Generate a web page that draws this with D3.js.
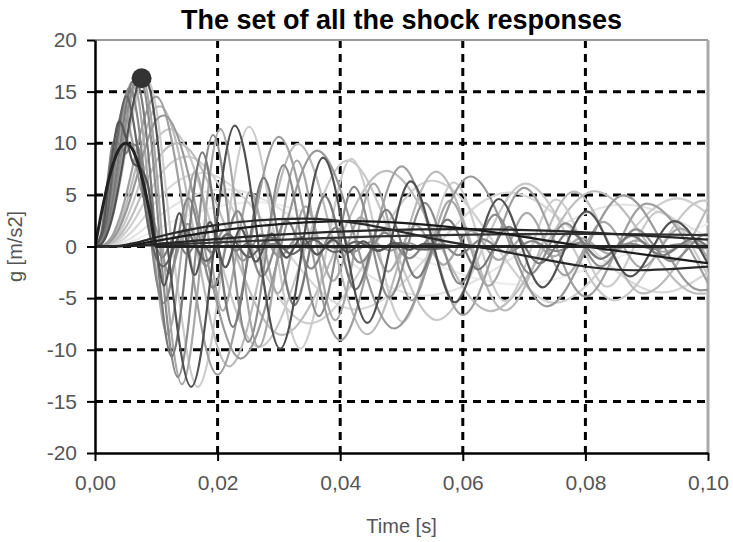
<!DOCTYPE html>
<html>
<head>
<meta charset="utf-8">
<script src="https://cdn.jsdelivr.net/npm/d3@7"></script>
<style>
  body { margin: 0; background: #fff; }
  text { font-family: "Liberation Sans", Arial, sans-serif; }
</style>
</head>
<body>
<svg id="chart" width="733" height="542"></svg>
<script>
const WIDTH = 733;
const HEIGHT = 542;
const MARGIN = { top: 40, right: 25, bottom: 89, left: 95 };

// tick values of both axes
const timeTicks = [0, 0.02, 0.04, 0.06, 0.08, 0.1];
const gTicks = [-20, -15, -10, -5, 0, 5, 10, 15, 20];

// half-sine shock input, [time, g]
const shockInput = [[0,0],[0.001,3.09],[0.002,5.88],[0.003,8.09],[0.004,9.51],[0.005,10],[0.006,9.51],[0.007,8.09],[0.008,5.88],[0.009,3.09],[0.01,0],[0.1,0]];

// responses of the oscillators (period in the name)
const resp004 = [[0,0],[0.001,1.29],[0.002,6.13],[0.003,10.07],[0.004,9.91],[0.005,9.01],[0.006,9.91],[0.007,9.63],[0.008,6.13],[0.009,2.19],[0.01,0],[0.011,-1.05],[0.013,0.9],[0.015,-0.76],[0.017,0.65],[0.019,-0.56],[0.021,0.48],[0.023,-0.41],[0.025,0.35],[0.027,-0.3],[0.029,0.25],[0.031,-0.22],[0.033,0.19],[0.035,-0.16],[0.037,0.14],[0.039,-0.12],[0.045,0],[0.1,0]];
const resp005 = [[0,0],[0.00125,1.62],[0.0025,7.54],[0.00375,11.96],[0.004,12.12],[0.005,10.67],[0.00625,8.06],[0.0075,7.54],[0.00875,5.62],[0.01,0],[0.01125,-3.78],[0.01375,3.23],[0.01625,-2.76],[0.01875,2.36],[0.02125,-2.02],[0.02375,1.72],[0.02625,-1.47],[0.02875,1.26],[0.03125,-1.08],[0.03375,0.92],[0.03625,-0.79],[0.03875,0.67],[0.04125,-0.57],[0.04375,0.49],[0.04625,-0.42],[0.04875,0.36],[0.05125,-0.31],[0.05375,0.26],[0.06,0],[0.1,0]];
const resp006 = [[0,0],[0.0015,1.94],[0.003,8.89],[0.0047,13.46],[0.006,10.45],[0.0075,5.54],[0.009,3.4],[0.01,1.69],[0.0121,-2.57],[0.0151,2.2],[0.0181,-1.88],[0.0211,1.61],[0.0241,-1.37],[0.0271,1.17],[0.0301,-1],[0.0331,0.86],[0.0361,-0.73],[0.0391,0.63],[0.0421,-0.54],[0.0451,0.46],[0.0481,-0.39],[0.0511,0.34],[0.0541,-0.29],[0.06,0],[0.1,0]];
const resp007 = [[0,0],[0.00175,2.26],[0.0035,10.15],[0.0051,14.55],[0.007,9.22],[0.008,4.52],[0.00875,1.67],[0.01,-1.1],[0.01111,-1.92],[0.01461,1.64],[0.01811,-1.4],[0.02161,1.2],[0.02511,-1.03],[0.02861,0.88],[0.03211,-0.75],[0.03561,0.64],[0.03911,-0.55],[0.04261,0.47],[0.04611,-0.4],[0.04961,0.34],[0.05311,-0.29],[0.06,0],[0.1,0]];
const resp008 = [[0,0],[0.001,0.44],[0.002,2.6],[0.003,6.64],[0.004,11.32],[0.005,14.67],[0.0055,15.31],[0.006,15.08],[0.007,12.19],[0.008,7],[0.009,1.32],[0.01,-3.21],[0.01124,-5.47],[0.01524,4.68],[0.01924,-4],[0.02324,3.42],[0.02724,-2.92],[0.03124,2.5],[0.03524,-2.14],[0.03924,1.83],[0.04324,-1.56],[0.04724,1.34],[0.05124,-1.14],[0.05524,0.98],[0.05924,-0.84],[0.06324,0.72],[0.06724,-0.61],[0.07124,0.52],[0.07524,-0.45],[0.07924,0.38],[0.08324,-0.33],[0.08724,0.28],[0.09124,-0.24],[0.09524,0.2],[0.09924,-0.17],[0.1,-0.14]];
const resp009 = [[0,0],[0.001,0.37],[0.002,2.19],[0.003,5.74],[0.004,10.25],[0.005,14.16],[0.006,15.89],[0.007,14.5],[0.008,10.12],[0.009,3.88],[0.01,-2.56],[0.01184,-8.5],[0.01634,7.27],[0.02084,-6.21],[0.02534,5.31],[0.02984,-4.54],[0.03434,3.88],[0.03884,-3.32],[0.04334,2.84],[0.04784,-2.43],[0.05234,2.07],[0.05684,-1.77],[0.06134,1.52],[0.06584,-1.3],[0.07034,1.11],[0.07484,-0.95],[0.07934,0.81],[0.08384,-0.69],[0.08834,0.59],[0.09284,-0.51],[0.09734,0.43],[0.1,-0.12]];
const resp010 = [[0,0],[0.001,0.32],[0.002,1.89],[0.003,5.02],[0.004,9.22],[0.005,13.33],[0.006,15.9],[0.0065,16.1],[0.007,15.8],[0.008,12.77],[0.009,7.08],[0.01,0],[0.0125,-10.65],[0.0175,9.11],[0.0225,-7.79],[0.0275,6.66],[0.0325,-5.69],[0.0375,4.87],[0.0425,-4.16],[0.0475,3.56],[0.0525,-3.04],[0.0575,2.6],[0.0625,-2.22],[0.0675,1.9],[0.0725,-1.63],[0.0775,1.39],[0.0825,-1.19],[0.0875,1.02],[0.0925,-0.87],[0.0975,0.74],[0.1,0]];
const resp0115 = [[0,0],[0.001,0.27],[0.002,1.57],[0.003,4.19],[0.004,7.91],[0.005,11.96],[0.006,15.2],[0.007,16.2],[0.008,15.29],[0.009,11.19],[0.01,4.79],[0.01064,0],[0.01351,-12.63],[0.01926,10.8],[0.02501,-9.23],[0.03076,7.89],[0.03651,-6.75],[0.04226,5.77],[0.04801,-4.93],[0.05376,4.22],[0.05951,-3.61],[0.06526,3.08],[0.07101,-2.64],[0.07676,2.25],[0.08251,-1.93],[0.08826,1.65],[0.09401,-1.41],[0.09976,1.2],[0.1,1.2]];
const resp0125 = [[0,0],[0.001,0.25],[0.002,1.42],[0.003,3.79],[0.004,7.22],[0.005,11.09],[0.006,14.5],[0.007,16.2],[0.008,16],[0.009,13.11],[0.01,7.59],[0.01107,0],[0.01419,-13.33],[0.02044,11.4],[0.02669,-9.75],[0.03294,8.33],[0.03919,-7.13],[0.04544,6.09],[0.05169,-5.21],[0.05794,4.45],[0.06419,-3.81],[0.07044,3.26],[0.07669,-2.78],[0.08294,2.38],[0.08919,-2.03],[0.09544,1.74],[0.1,-1.15]];
const resp0144 = [[0,0],[0.001,0.24],[0.002,1.25],[0.003,3.27],[0.004,6.26],[0.005,9.78],[0.006,13.19],[0.007,15.68],[0.0077,16.3],[0.008,16.25],[0.009,15.11],[0.01,11.3],[0.01185,0],[0.0157,-13.6],[0.0228,11.7],[0.0302,-9.9],[0.0372,8.6],[0.0444,-7.4],[0.0515,6.3],[0.0587,-5.4],[0.0659,4.6],[0.073,-3.95],[0.0802,3.4],[0.0873,-2.9],[0.0945,2.45],[0.1,-1.7]];
const resp0167 = [[0,0],[0.001,0.22],[0.002,1.31],[0.003,3.16],[0.004,5.9],[0.005,9.16],[0.006,12.3],[0.007,14.82],[0.008,16],[0.009,15.7],[0.01,13.31],[0.0126,0],[0.01677,-13.6],[0.02512,11.6],[0.03347,-9.9],[0.04182,8.5],[0.05017,-7.3],[0.05852,6.2],[0.06687,-5.3],[0.07522,4.55],[0.08357,-3.9],[0.09192,3.35],[0.1,-2.85]];
const resp020 = [[0,0],[0.001,0.05],[0.002,0.39],[0.003,1.24],[0.004,2.72],[0.005,4.81],[0.006,7.32],[0.007,9.95],[0.008,12.31],[0.009,13.97],[0.01,14.52],[0.02,-12.41],[0.03,10.62],[0.04,-9.08],[0.05,7.76],[0.06,-6.63],[0.07,5.67],[0.08,-4.85],[0.09,4.15],[0.1,-3.55]];
const resp0225 = [[0,0],[0.001,0.05],[0.002,0.38],[0.003,0.99],[0.004,2.17],[0.005,3.93],[0.006,6.07],[0.007,8.42],[0.008,10.62],[0.009,12.46],[0.01,13.5],[0.010625,13.58],[0.021875,-11.61],[0.033125,9.94],[0.044375,-8.5],[0.055625,7.26],[0.066875,-6.2],[0.078125,5.31],[0.089375,-4.54],[0.1,3.86]];
const resp025 = [[0,0],[0.001,0.04],[0.002,0.26],[0.003,0.82],[0.004,1.8],[0.005,3.25],[0.006,5.07],[0.007,7.12],[0.008,9.16],[0.009,11],[0.01,12.27],[0.01125,12.69],[0.02375,-10.85],[0.03625,9.28],[0.04875,-7.94],[0.06125,6.78],[0.07375,-5.79],[0.08625,4.96],[0.09875,-4.24],[0.1,-4.2]];
const resp029 = [[0,0],[0.001,0.04],[0.002,0.19],[0.003,0.62],[0.004,1.37],[0.005,2.47],[0.006,3.93],[0.007,5.58],[0.008,7.33],[0.009,8.97],[0.01,10.3],[0.01225,11.38],[0.02675,-9.73],[0.04125,8.33],[0.05575,-7.12],[0.07025,6.09],[0.08475,-5.2],[0.09925,4.45],[0.1,4.44]];
const resp034 = [[0,0],[0.001,0.02],[0.002,0.14],[0.003,0.44],[0.004,1.01],[0.005,1.85],[0.006,2.94],[0.007,4.23],[0.008,5.64],[0.009,7.03],[0.01,8.25],[0.0135,10.01],[0.0305,-8.56],[0.0475,7.32],[0.0645,-6.26],[0.0815,5.35],[0.0985,-4.57],[0.1,-4.55]];
const resp040 = [[0,0],[0.001,0.01],[0.002,0.1],[0.003,0.33],[0.004,0.74],[0.005,1.35],[0.006,2.17],[0.007,3.15],[0.008,4.24],[0.009,5.36],[0.01,6.41],[0.015,8.71],[0.035,-7.45],[0.055,6.37],[0.075,-5.45],[0.095,4.66],[0.1,3.16]];
const resp050 = [[0,0],[0.001,0.01],[0.002,0.07],[0.003,0.21],[0.004,0.47],[0.005,0.89],[0.006,1.42],[0.007,2.08],[0.008,2.83],[0.009,3.62],[0.01,4.39],[0.0175,7.12],[0.0425,-6.09],[0.0675,5.21],[0.0925,-4.45],[0.1,-2.5]];
const resp065 = [[0,0],[0.002,0.04],[0.003,0.13],[0.004,0.29],[0.005,0.53],[0.006,0.85],[0.007,1.25],[0.008,1.72],[0.009,2.22],[0.01,2.73],[0.02125,5.56],[0.05375,-4.75],[0.08625,4.07],[0.1,0.92]];
const resp085 = [[0,0],[0.003,0.07],[0.004,0.17],[0.005,0.31],[0.006,0.51],[0.007,0.75],[0.008,1.03],[0.009,1.34],[0.01,1.65],[0.02625,4.29],[0.0475,0],[0.06875,-3.67],[0.09,0],[0.1,2.2]];
const resp110 = [[0,0],[0.003,0.04],[0.005,0.17],[0.007,0.4],[0.01,0.9],[0.02,2.1],[0.034,2.7],[0.062,0],[0.088,-2.3],[0.1,-1.95]];
const resp150 = [[0,0],[0.004,0.05],[0.006,0.17],[0.008,0.34],[0.01,0.55],[0.02,1.52],[0.0425,2.46],[0.06,1.76],[0.08,0],[0.1,-1.62]];
const resp220 = [[0,0],[0.005,0.05],[0.01,0.26],[0.03,1.15],[0.06,1.68],[0.1,0.66]];
const resp300 = [[0,0],[0.005,0.03],[0.01,0.14],[0.03,0.65],[0.05,1.03],[0.08,1.23],[0.1,1.1]];

// largest response, marked with a dot
const peakPoint = [0.0076, 16.3];

// drawing order (light first) and the grey of each line
const responses = [resp085, resp065, resp050, resp040, resp029, resp034, resp0167, resp0225, resp009, resp0125, resp020, resp025, resp0115, resp006, resp008, resp004, resp010, resp007, resp005, resp0144, resp300, resp220, resp150, resp110];
const shades = ["#eeeeee", "#e4e4e4", "#d8d8d8", "#cfcfcf", "#c8c8c8", "#bdbdbd", "#cccccc", "#bbbbbb", "#aaaaaa", "#a8a8a8", "#a0a0a0", "#999999", "#8c8c8c", "#999999", "#888888", "#808080", "#7a7a7a", "#666666", "#555555", "#505050", "#333333", "#262626", "#1a1a1a", "#2a2a2a"];

const svg = d3.select('#chart');

const scaleX = d3.scaleLinear([0, 0.1], [MARGIN.left, WIDTH - MARGIN.right]);
const scaleY = d3.scaleLinear([-20, 20], [HEIGHT - MARGIN.bottom, MARGIN.top]);

const x0 = scaleX.range()[0], x1 = scaleX.range()[1];
const y0 = scaleY.range()[1], y1 = scaleY.range()[0];

// dashed grid
const grid = svg.append('g');
grid.selectAll('line.v')
    .data(timeTicks.slice(1, -1))
    .enter().append('line')
    .attr('x1', d => scaleX(d)).attr('x2', d => scaleX(d))
    .attr('y1', y0).attr('y2', y1)
    .attr('stroke', '#000').attr('stroke-width', 3)
    .attr('stroke-dasharray', '8,6');
grid.selectAll('line.h')
    .data(gTicks.slice(1, -1))
    .enter().append('line')
    .attr('x1', x0).attr('x2', x1)
    .attr('y1', d => scaleY(d)).attr('y2', d => scaleY(d))
    .attr('stroke', '#000').attr('stroke-width', 3)
    .attr('stroke-dasharray', '8,6');

// top and right frame in grey
svg.append('line').attr('x1', x0).attr('x2', x1).attr('y1', y0).attr('y2', y0)
    .attr('stroke', '#999').attr('stroke-width', 2);
svg.append('line').attr('x1', x1).attr('x2', x1).attr('y1', y0).attr('y2', y1)
    .attr('stroke', '#aaa').attr('stroke-width', 3);

svg.append('clipPath').attr('id', 'plot')
    .append('rect').attr('x', x0).attr('y', y0 - 12).attr('width', x1 - x0).attr('height', y1 - y0 + 12);

const line = d3.line()
    .x(d => scaleX(d[0]))
    .y(d => scaleY(d[1]))
    .curve(d3.curveMonotoneX);

const curves = svg.append('g').attr('clip-path', 'url(#plot)');
curves.selectAll('path')
    .data(responses)
    .enter().append('path')
    .attr('d', line)
    .attr('fill', 'none')
    .attr('stroke', (d, i) => shades[i])
    .attr('stroke-width', 2.2);

curves.append('path')
    .attr('d', line(shockInput))
    .attr('fill', 'none')
    .attr('stroke', '#222')
    .attr('stroke-width', 3);

svg.append('circle')
    .attr('cx', scaleX(peakPoint[0]))
    .attr('cy', scaleY(peakPoint[1]))
    .attr('r', 10)
    .attr('fill', '#333');

// axes
const commaFormat = d => d3.format('.2f')(d).replace('.', ',');
const xAxis = svg.append('g')
    .attr('transform', `translate(0, ${y1})`)
    .call(d3.axisBottom(scaleX).tickValues(timeTicks).tickFormat(commaFormat).tickSize(8).tickPadding(14).tickSizeOuter(0));
const yAxis = svg.append('g')
    .attr('transform', `translate(${x0}, 0)`)
    .call(d3.axisLeft(scaleY).tickValues(gTicks).tickFormat(d => String(d)).tickSize(8).tickPadding(10).tickSizeOuter(0));

[xAxis, yAxis].forEach(ax => {
    ax.select('.domain').attr('stroke', '#000').attr('stroke-width', 2.5);
    ax.selectAll('.tick line').attr('stroke', '#000').attr('stroke-width', 2);
    ax.selectAll('.tick text')
        .attr('fill', '#555')
        .style('font-size', '21px')
        .style('font-family', '"Liberation Sans", Arial, sans-serif');
});

svg.append('text')
    .attr('x', (x0 + x1) / 2).attr('y', 29)
    .attr('text-anchor', 'middle')
    .style('font-size', '27px').style('font-weight', 'bold')
    .attr('fill', '#000')
    .text('The set of all the shock responses');

svg.append('text')
    .attr('x', (x0 + x1) / 2).attr('y', 533)
    .attr('text-anchor', 'middle')
    .style('font-size', '20px')
    .attr('fill', '#555')
    .text('Time [s]');

svg.append('text')
    .attr('transform', `translate(22, ${(y0 + y1) / 2}) rotate(-90)`)
    .attr('text-anchor', 'middle')
    .style('font-size', '20px')
    .attr('fill', '#555')
    .text('g [m/s2]');
</script>
</body>
</html>
